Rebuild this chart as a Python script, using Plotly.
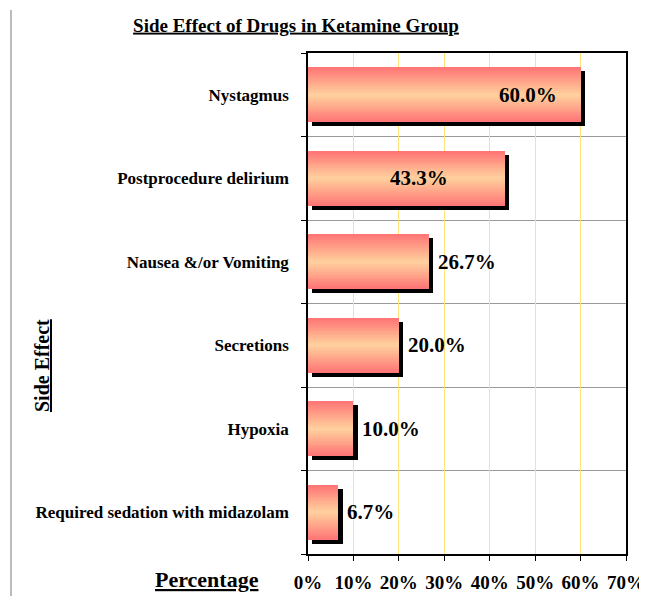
import plotly.graph_objects as go

categories = ["Nystagmus", "Postprocedure delirium", "Nausea &/or Vomiting",
              "Secretions", "Hypoxia", "Required sedation with midazolam"]
values = [60.0, 43.3, 26.7, 20.0, 10.0, 6.7]
tick_values = [0, 10, 20, 30, 40, 50, 60, 70]
tick_labels = ["0%", "10%", "20%", "30%", "40%", "50%", "60%", "70%"]

SERIF = "Liberation Serif, Times New Roman, serif"
pos = list(range(len(categories)))

# the page body adds an 8px margin; figure is sized to fit the window
OFF = 8
W, H = 647 - OFF, 596 - OFF
L, R, T, B = 308 - OFF, 647 - 626, 53 - OFF, 596 - 554
PW, PH = W - L - R, H - T - B

fig = go.Figure()

BAR_W = 0.66
# shadow
fig.add_trace(go.Bar(
    y=[p + 0.05 for p in pos], x=values, base=0.9, orientation="h",
    width=BAR_W, marker=dict(color="#000000", line=dict(width=0)),
    hoverinfo="skip", showlegend=False))

# gradient bars built from overlaid layers
edge = (255, 118, 118)
center = (255, 206, 156)
n = 14
for k in range(n):
    t = k / (n - 1)
    c = tuple(int(round(edge[i] + (center[i] - edge[i]) * t)) for i in range(3))
    w = BAR_W * (1 - k / n)
    fig.add_trace(go.Bar(
        y=pos, x=values, orientation="h", width=w,
        marker=dict(color="rgb(%d,%d,%d)" % c, line=dict(width=0)),
        hoverinfo="skip", showlegend=False))

# value labels
shifts = [-22, -55, 7, 7, 7, 7]
for p, v, s in zip(pos, values, shifts):
    fig.add_annotation(
        x=v, y=p, xref="x", yref="y", text="<b>%.1f%%</b>" % v,
        showarrow=False, xanchor="right" if s < 0 else "left", xshift=s,
        font=dict(family=SERIF, size=21, color="#000000"))

fig.update_layout(
    width=W, height=H,
    margin=dict(l=L, r=R, t=T, b=B, autoexpand=False),
    paper_bgcolor="white", plot_bgcolor="white",
    barmode="overlay", bargap=0,
    font=dict(family=SERIF, color="black"),
    title=dict(text="<b><u>Side Effect of Drugs in Ketamine Group</u></b>",
               x=(296 - OFF) / W, xanchor="center", y=1 - (25 - OFF) / H, yanchor="middle",
               font=dict(family=SERIF, size=19, color="black")),
)

fig.update_xaxes(
    range=[0, 70], tickvals=tick_values, ticktext=["<b>%s</b>" % t for t in tick_labels],
    tickfont=dict(family=SERIF, size=19, color="#000000"),
    ticks="outside", ticklen=5, tickcolor="black", tickwidth=1,
    ticklabelstandoff=5,
    showgrid=True, gridcolor="#FFE27A", gridwidth=1,
    showline=True, linecolor="black", linewidth=1.5, mirror=True,
    zeroline=False, fixedrange=True, automargin=False)

fig.update_yaxes(
    range=[5.5, -0.5], tickvals=pos, ticktext=["<b>%s</b>" % c for c in categories],
    tickfont=dict(family=SERIF, size=17, color="#000000"),
    ticks="outside", ticklen=0, ticklabelstandoff=14,
    showgrid=False,
    minor=dict(tickmode="array", tickvals=[i - 0.5 for i in range(len(categories) + 1)],
               ticks="outside", ticklen=5, tickcolor="black",
               showgrid=True, gridcolor="#999999", gridwidth=1),
    showline=True, linecolor="black", linewidth=1.5, mirror=True,
    zeroline=False, fixedrange=True, automargin=False)

# axis titles (positions in window pixels converted to plot-paper fractions)
def px(x):
    return (x - 308) / PW

def py(y):
    return (554 - y) / PH

fig.add_annotation(text="<b><u>Percentage</u></b>", xref="paper", yref="paper",
                   x=px(207), y=py(579), showarrow=False,
                   xanchor="center", yanchor="middle",
                   font=dict(family=SERIF, size=22, color="black"))
fig.add_annotation(text="<b><u>Side Effect</u></b>", xref="paper", yref="paper",
                   x=px(42), y=py(366), showarrow=False,
                   textangle=-90, xanchor="center", yanchor="middle",
                   font=dict(family=SERIF, size=20, color="black"))

# page border line at left
fig.add_shape(type="line", xref="paper", yref="paper",
              x0=px(11), x1=px(11), y0=py(596), y1=py(10),
              line=dict(color="#BBBBBB", width=2))

fig.write_html("out.html")
